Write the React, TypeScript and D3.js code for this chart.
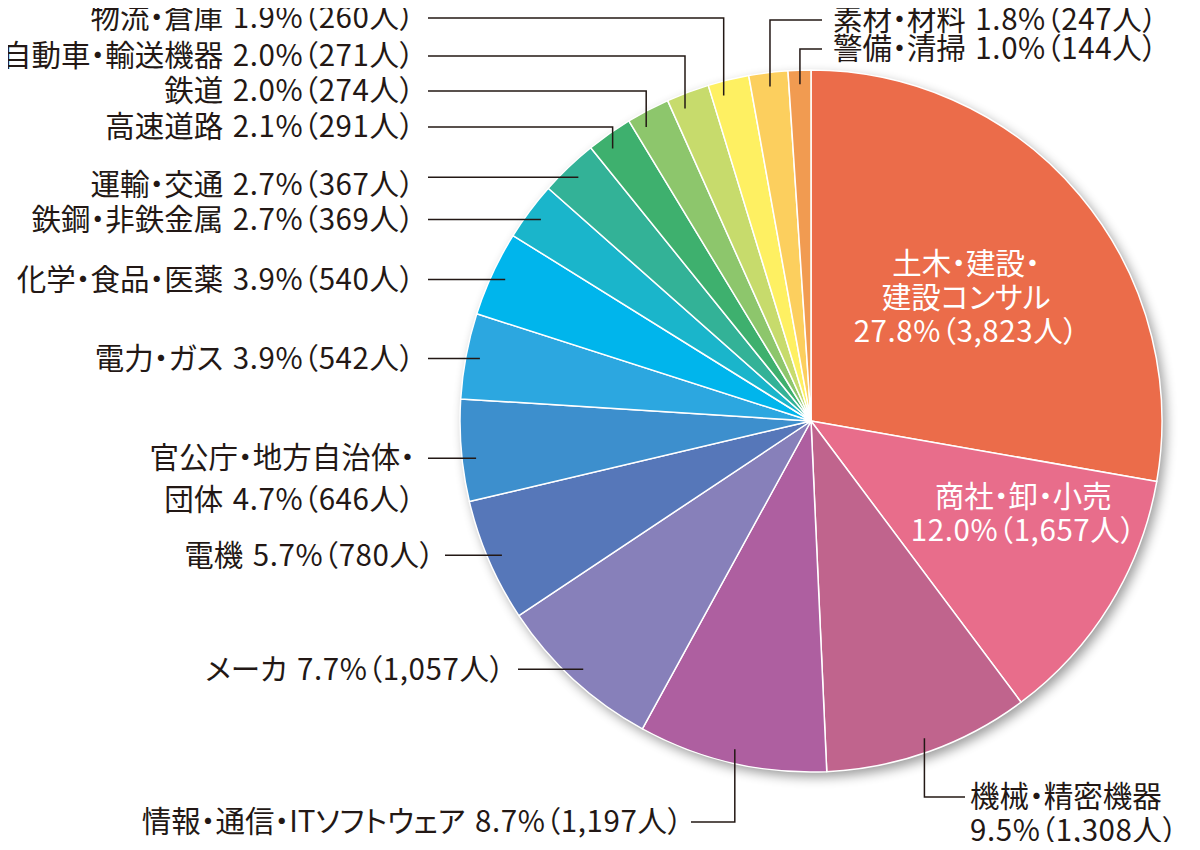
import * as d3 from 'd3'

// industry sectors, clockwise from 12 o'clock ("\n" = forced line break)
const names = [
  '土木・建設・\n建設コンサル', '商社・卸・小売', '機械・精密機器', '情報・通信・ITソフトウェア',
  'メーカ', '電機', '官公庁・地方自治体・\n団体', '電力・ガス', '化学・食品・医薬',
  '鉄鋼・非鉄金属', '運輸・交通', '高速道路', '鉄道', '自動車・輸送機器',
  '物流・倉庫', '素材・材料', '警備・清掃',
]
const counts = [3823, 1657, 1308, 1197, 1057, 780, 646, 542, 540, 369, 367, 291, 274, 271, 260, 247, 144]
const shares = ['27.8', '12.0', '9.5', '8.7', '7.7', '5.7', '4.7', '3.9', '3.9', '2.7', '2.7', '2.1', '2.0', '2.0', '1.9', '1.8', '1.0']
const colors = [
  '#EB6C4A', '#E86D8B', '#C0648D', '#AE5FA0', '#8780BA', '#5677B9', '#3D8FCD', '#2CA7E0',
  '#00B5EC', '#1AB5CB', '#33B297', '#3EB06E', '#8DC66C', '#C7DB6C', '#FEF062', '#FCCF5E', '#F19B51',
]

// label placement per slice (layout only)
type Lay = {
  kind: 'in' | 'h' | 'v'
  tx?: number; ty?: number; anchor?: 'start' | 'end'
  rf?: number; da?: number; tdy?: number; gap?: number; valueBreak?: boolean
}
const layout: Lay[] = [
  { kind: 'in', rf: 0.565, da: 1.5 },
  { kind: 'in', rf: 0.66, da: -8 },
  { kind: 'v', tx: 970, ty: 797, anchor: 'start', gap: 5, valueBreak: true },
  { kind: 'v', tx: 683, ty: 822, anchor: 'end', gap: 8 },
  { kind: 'h', tx: 505 },
  { kind: 'h', tx: 435, gap: 10 },
  { kind: 'h', tx: 415, da: -1.5 },
  { kind: 'h', tx: 415 },
  { kind: 'h', tx: 415 },
  { kind: 'h', tx: 415 },
  { kind: 'h', tx: 415, tdy: 7 },
  { kind: 'v', tx: 415, ty: 127, anchor: 'end', da: -1 },
  { kind: 'v', tx: 415, ty: 91, anchor: 'end', da: -1.6 },
  { kind: 'v', tx: 415, ty: 56, anchor: 'end', da: -1.4 },
  { kind: 'v', tx: 415, ty: 18, anchor: 'end', da: -1.4 },
  { kind: 'v', tx: 833, ty: 20, anchor: 'start', gap: 11 },
  { kind: 'v', tx: 833, ty: 49, anchor: 'start', gap: 11 },
]

const W = 1200
const H = 850
const CX = 811
const CY = 421
const R = 351
const INK = '#231815'
const FONT = '"Noto Sans CJK JP", "Noto Sans", sans-serif'
const FS = 29.5

const fmt = d3.format(',')

type Seg = { t: string; value?: boolean; gapBefore?: boolean }

function Lines({ lines, x, y, lh, anchor, fill }: { lines: Seg[][]; x: number; y: number; lh: number; anchor: string; fill: string }) {
  return (
    <text x={x} y={y} textAnchor={anchor as any} fill={fill} fontSize={FS}>
      {lines.map((segs, k) => (
        <tspan key={k} x={x} y={y + k * lh} dy="0.35em">
          {segs.map((s, j) => (
            <tspan key={j} dx={s.gapBefore ? 3 : undefined} letterSpacing={s.value ? 0.6 : 0}>{s.t}</tspan>
          ))}
        </tspan>
      ))}
    </text>
  )
}

export default function App() {
  const idx = d3.range(counts.length)
  const pie = d3.pie<number>().sort(null).value(i => counts[i]).startAngle(0).endAngle(2 * Math.PI)
  const arcs = pie(idx)
  const arc = d3.arc<d3.PieArcDatum<number>>().innerRadius(0).outerRadius(R)

  const at = (a: number, r: number) => [CX + r * Math.sin(a), CY - r * Math.cos(a)]

  const labels = arcs.map(a => {
    const i = a.data
    const L = layout[i]
    const mid = (a.startAngle + a.endAngle) / 2 + ((L.da ?? 0) * Math.PI) / 180
    const valueText = `${shares[i]}%（${fmt(counts[i])}人）`
    const nameLines = names[i].split('\n')
    let lines: Seg[][]
    if (L.kind === 'in' || L.valueBreak) lines = [...nameLines.map(t => [{ t }]), [{ t: valueText, value: true }]]
    else lines = [
      ...nameLines.slice(0, -1).map(t => [{ t }]),
      [{ t: nameLines[nameLines.length - 1] + ' ' }, { t: valueText, value: true, gapBefore: true }],
    ]

    if (L.kind === 'in') {
      const [x, y] = at(mid, R * L.rf!)
      const lh = 34
      const y0 = y - ((lines.length - 1) * lh) / 2
      return <Lines key={i} lines={lines} x={x} y={y0} lh={lh} anchor="middle" fill="#fff" />
    }

    const [px, py] = at(mid, R * 0.96)
    const gap = L.gap ?? 13
    const anchor = L.anchor ?? 'end'
    const ty = L.kind === 'h' ? py : L.ty!
    const lx = anchor === 'end' ? L.tx! + gap : L.tx! - gap
    const d = L.kind === 'h'
      ? `M${lx},${py}H${px}`
      : `M${lx},${ty}H${px}V${py}`
    const textY = ty + (L.tdy ?? 0)
    const lh = L.valueBreak ? 34 : 42
    return (
      <g key={i}>
        <path d={d} fill="none" stroke={INK} strokeWidth={1.5} />
        <Lines lines={lines} x={L.tx!} y={textY} lh={lh} anchor={anchor} fill={INK} />
      </g>
    )
  })

  return (
    <svg width={W} height={H} style={{ display: 'block', margin: -8, fontFamily: FONT, fontFeatureSettings: '"palt"' }}>
      <defs>
        <filter id="shadow" x="-20%" y="-20%" width="140%" height="140%">
          <feGaussianBlur in="SourceAlpha" stdDeviation="6" />
          <feOffset dx="4" dy="5" result="b" />
          <feComponentTransfer><feFuncA type="linear" slope="0.4" /></feComponentTransfer>
        </filter>
      </defs>
      <circle cx={CX} cy={CY} r={R} fill="#000" filter="url(#shadow)" />
      <g transform={`translate(${CX},${CY})`}>
        {arcs.map(a => (
          <path key={a.data} d={arc(a)!} fill={colors[a.data]} stroke="#fff" strokeWidth={1.5} strokeLinejoin="round" />
        ))}
      </g>
      {labels}
    </svg>
  )
}
